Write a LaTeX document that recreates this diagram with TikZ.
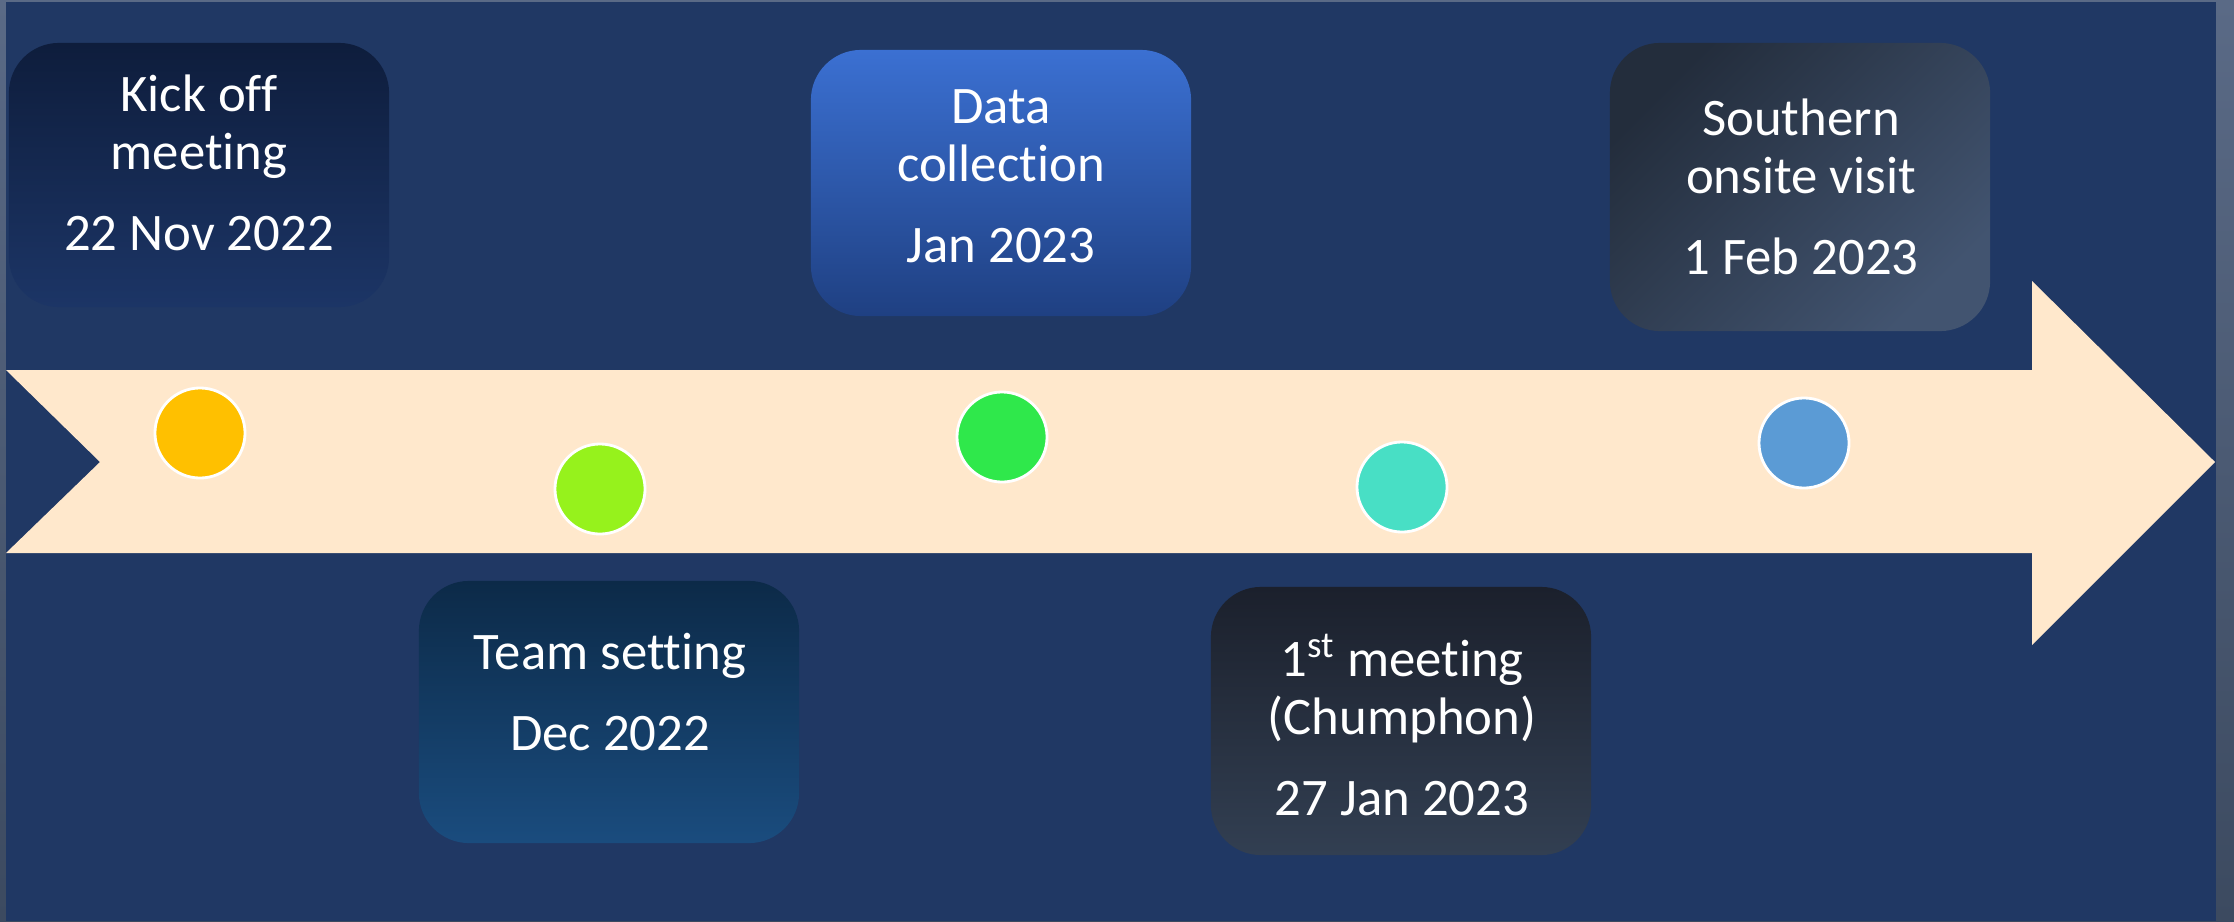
\documentclass[tikz,border=0pt]{standalone}
\usepackage{fontspec}
\setmainfont{Carlito}[Ligatures={NoCommon}]
\definecolor{fondo}{HTML}{203864}
\definecolor{marcoA}{HTML}{5A6A86}
\definecolor{marcoB}{HTML}{3C4A60}
\definecolor{flecha}{HTML}{FFE8CC}
\definecolor{amarillo}{HTML}{FFC000}
\definecolor{lima}{HTML}{96F21C}
\definecolor{verde}{HTML}{2FE84B}
\definecolor{turquesa}{HTML}{48DFC5}
\definecolor{azul}{HTML}{5B9BD5}
\begin{document}
\begin{tikzpicture}[x=0.01cm,y=-0.01cm,
    caja/.style={rounded corners=0.5cm,minimum width=3.8cm,inner sep=0pt},
    texto/.style={text=white,align=center,font=\fontsize{15pt}{16.5pt}\selectfont},
    punto/.style={circle,draw=white,line width=0.8pt,minimum size=0.9cm,inner sep=0pt}]

    \useasboundingbox (0,0) rectangle (2234,921);

    %Fondo
    \fill[top color=marcoA,bottom color=marcoB] (0,0) rectangle (2234,921);
    \fill[fondo] (6,2) rectangle (2216,921);

    %Flecha
    \fill[flecha] (6,370) -- (2032,370) -- (2032,281) -- (2215,462)
        -- (2032,645) -- (2032,553) -- (6,553) -- (100,462) -- cycle;

    %Cajas
    \node[caja,minimum height=2.64cm,top color={rgb,255:red,14;green,29;blue,60},bottom color={rgb,255:red,28;green,53;blue,102}] (c1) at (199,175) {};
    \node[caja,minimum height=2.62cm,top color={rgb,255:red,12;green,42;blue,72},bottom color={rgb,255:red,26;green,76;blue,126}] (c2) at (609,712) {};
    \node[caja,minimum height=2.66cm,top color={rgb,255:red,59;green,112;blue,210},bottom color={rgb,255:red,31;green,64;blue,130}] (c3) at (1001,183) {};
    \node[caja,minimum height=2.68cm,top color={rgb,255:red,27;green,32;blue,44},bottom color={rgb,255:red,50;green,63;blue,82}] (c4) at (1401,721) {};
    \node[caja,minimum height=2.88cm,top color={rgb,255:red,35;green,45;blue,60},bottom color={rgb,255:red,66;green,84;blue,112},shading angle=45] (c5) at (1800,187) {};

    %Textos
    \node[texto] (t1) at (199,163) {Kick off\\meeting\\[6.5pt]22 Nov 2022};
    \node[texto] (t2) at (610,692) {Team setting\\[6.5pt]Dec 2022};
    \node[texto] (t3) at (1001,176) {Data\\collection\\[6.5pt]Jan 2023};
    \node[texto] (t4) at (1402,725) {1\textsuperscript{st} meeting\\(Chumphon)\\[6.5pt]27 Jan 2023};
    \node[texto] (t5) at (1801,187) {Southern\\onsite visit\\[6.5pt]1 Feb 2023};

    %Hitos
    \foreach \i/\x/\y/\c in {1/200/433/amarillo,2/600/489/lima,3/1002/437/verde,4/1402/487/turquesa,5/1804/443/azul}{
        \node[punto,fill=\c] (p\i) at (\x,\y) {};
    }

\end{tikzpicture}
\end{document}
